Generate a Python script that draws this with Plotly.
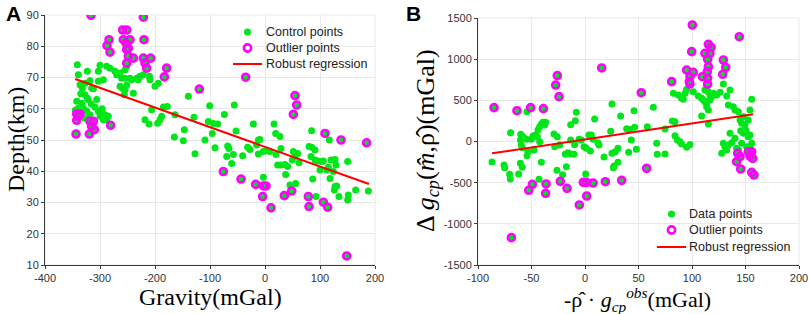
import plotly.graph_objects as go

# ---------------- Panel A data ----------------
a_ctrl_x = [-341.2, -339.4, -323.0, -336.4, -332.1, -327.3, -318.2, -315.2, -312.1, -303.0,
            -300.0, -287.9, -281.8, -272.7, -269.7, -263.6, -254.5, -251.5, -260.6, -254.5,
            -245.5, -242.4, -233.3, -227.3, -221.2, -230.3, -263.6, -259.4, -254.5, -251.5,
            -255.8, -239.4, -293.9, -303.0, -327.3, -323.0, -321.2, -333.3, -342.4, -339.4,
            -330.3, -324.2, -318.2, -309.1, -303.0, -300.0, -297.0, -293.9, -290.9, -284.8,
            -287.9, -210.3, -209.1, -200.0, -193.9, -206.1, -218.2, -210.9, -195.2, -187.9,
            -184.8, -177.6, -190.9, -163.6, -164.8, -148.5, -139.4, -129.1, -146.7, -127.3,
            -100.6, -55.8, -103.0, -93.9, -86.1, -109.1, -73.9, -52.7, -95.8, -90.9,
            -67.9, -65.5, -69.7, -57.6, -60.6, -40.6, -31.5, -27.3, -21.2, -12.1,
            -9.1, -15.2, -12.1, -3.0, 3.0, 9.1, 16.4, 19.4, 27.3, 29.1,
            20.0, 23.0, 29.1, 36.4, 41.2, 37.6, 51.5, 59.4, 49.7, 61.8,
            54.5, 84.8, 80.0, 84.8, 90.9, 83.6, 90.9, 95.8, 103.0, 106.1,
            100.0, 112.1, 118.2, 120.0, 127.3, 129.1, 124.2, 150.3, 86.7, 92.7,
            45.4, 55.7, -3.0, 115.2, 127.3, 130.3, 126.1, 134.5, 151.5, 150.3,
            164.8, 187.9, 117.0, -335.0, -345.0, -328.0, -316.0, -306.0, -296.0]
a_ctrl_y = [74.1, 70.9, 72.0, 67.7, 66.6, 68.2, 69.0, 66.6, 66.4, 72.0,
            73.9, 73.6, 73.0, 72.0, 70.9, 71.4, 72.5, 73.6, 69.8, 69.8,
            69.8, 69.3, 69.8, 70.4, 70.9, 69.3, 67.2, 66.6, 66.1, 67.5,
            64.5, 65.0, 69.3, 68.8, 64.5, 63.4, 62.9, 61.8, 62.4, 60.2,
            60.2, 59.2, 58.1, 60.5, 59.2, 57.6, 58.6, 56.5, 58.1, 57.6,
            56.5, 70.4, 69.3, 67.2, 68.2, 59.7, 56.5, 55.1, 55.4, 57.6,
            60.6, 60.7, 56.5, 58.1, 51.0, 49.8, 64.0, 57.3, 53.3, 45.6,
            61.0, 61.2, 55.9, 55.3, 55.1, 50.0, 58.2, 52.9, 52.1, 47.5,
            48.1, 47.3, 44.7, 45.4, 42.5, 45.0, 47.7, 47.0, 55.1, 50.0,
            50.2, 48.4, 45.5, 46.3, 46.6, 46.3, 55.1, 52.1, 51.1, 47.3,
            45.4, 42.0, 42.0, 42.2, 41.5, 39.0, 46.3, 45.7, 43.6, 42.7,
            44.7, 53.0, 47.9, 47.7, 46.8, 44.7, 43.6, 43.3, 43.1, 43.3,
            40.4, 40.4, 37.7, 43.6, 43.8, 42.0, 39.9, 43.1, 37.5, 31.9,
            35.6, 36.1, 38.1, 41.3, 35.1, 35.3, 34.0, 31.9, 32.4, 30.8,
            34.0, 33.7, 50.0, 64.8, 59.5, 57.0, 61.5, 63.0, 60.0]
a_out_x = [-316.4, -221.2, -258.8, -251.5, -257.6, -245.5, -220.0, -283.6, -287.3, -281.8,
           -252.7, -248.5, -251.5, -248.5, -239.4, -251.5, -221.2, -207.9, -218.2, -215.2,
           -178.8, -183.0, -119.4, -342.4, -336.4, -339.4, -342.4, -318.2, -312.1, -315.2,
           -310.3, -343.6, -319.4, -280.6,
           -35.2, 54.5, 57.6, 51.5, 109.1, 138.2, 184.8, -75.8, -43.6, -17.0,
           -3.0, 1.8, -4.3, 10.9, 35.1, 48.5, 78.8, 80.0, 106.1, 113.9, 148.5]
a_out_y = [89.9, 89.3, 85.2, 85.2, 82.1, 82.1, 82.1, 82.1, 80.2, 78.1,
           81.0, 79.4, 78.9, 76.8, 76.2, 74.6, 76.2, 76.2, 74.6, 73.0,
           73.0, 70.2, 66.3, 58.3, 58.3, 57.6, 56.3, 56.0, 56.0, 54.4,
           53.3, 51.9, 51.9, 54.7,
           70.1, 64.2, 61.2, 58.2, 52.1, 50.0, 49.1, 39.9, 37.5, 35.8,
           35.3, 35.3, 31.9, 28.3, 32.2, 33.7, 31.9, 28.7, 30.1, 28.5, 12.9]
a_fit_intercept = 47.8
a_fit_slope = -0.0629
a_fit_xrange = [-345.0, 189.0]
a_legend_labels = ["Control points", "Outlier points", "Robust regression"]

# ---------------- Panel B data ----------------
b_ctrl_x = [-86.9, -75.7, -75.1, -70.4, -69.8, -62.0, -60.4, -58.6, -69.5, -60.1,
            -57.9, -60.4, -59.5, -58.6, -54.8, -54.2, -53.3, -54.2, -50.2, -48.6,
            -47.7, -46.4, -44.5, -43.9, -42.4, -42.4, -40.8, -39.3, -37.7, -40.8,
            -43.0, -36.8, -29.0, -25.9, -28.3, -23.7, -26.2, -20.9, -18.4, -15.9,
            -13.4, -10.3, -17.4, -13.4, -9.0, -8.1, -13.4, -9.7, -5.6, -3.4,
            -0.9, 1.2, 3.7, 5.9, 7.5, 5.0, 12.1, 13.1, 9.0, 0.6,
            17.8, 24.0, 25.2, 25.2, 27.1, 28.3, 30.8, 30.8, 33.3, 38.9,
            41.7, 43.3, 45.8, 46.4, 48.0, 40.8, 26.5,
            63.9, 58.3, 67.0, 67.6, 74.8, 74.8, 81.6, 84.1, 84.1, 86.3,
            88.8, 90.3, 95.0, 98.1, 82.6, 87.2, 90.3, 91.9, 93.5, 95.0,
            101.2, 105.9, 109.0, 110.6, 112.1, 113.7, 113.7, 115.3, 116.8, 118.4,
            119.9, 123.1, 126.2, 129.3, 132.4, 135.5, 134.0, 138.6, 140.2, 143.3,
            144.9, 146.4, 148.0, 149.5, 152.6, 154.2, 155.8, 115.3, 109.0, 112.1,
            113.7, 115.3, 116.8, 135.5, 137.1, 129.3, 130.8, 132.4, 134.0, 127.7,
            140.2, 141.7, 143.3, 146.4, 148.0, 150.5, 152.6, 154.2, 155.8, 156.7,
            145.5, 151.1, 154.2]
b_ctrl_y = [-249, -286, -318, -399, -456, -395, -265, -314, 107, 87,
            59, 18, -43, -75, 26, -172, -124, 362, 26, 67,
            -103, 79, 59, 140, 180, -2, 208, 233, 200, -253,
            -460, 233, 91, 59, -63, -43, -350, -403, -156, -136,
            -152, -156, -306, 204, 253, 354, 18, -39, 26, 18,
            -63, -83, 79, 79, 26, -116, -14, -43, 273, -395,
            -188, 123, 455, -144, -298, -124, -83, -253, 310, 156,
            148, 18, 374, 172, -95, -132, -318,
            415, 180, -22, -156, -152, 152, 249, 241, 71, 18,
            -2, -31, -71, -35, 585, 565, 524, 512, 585, 634,
            605, 553, 524, 504, 484, 463, 423, 382, 504, 544,
            585, 565, 597, 698, 553, 625, 443, 423, 382, 362,
            261, 221, 301, 200, 261, 382, 512, 212, 310, 625,
            666, 605, 565, 99, -14, -22, -63, -103, -43, -144,
            38, -83, -103, -22, 99, 131, 59, 79, -22, -184,
            131, -63, -63]
b_out_x = [-85.0, -63.6, -50.8, -38.9, -25.9, -27.4, -24.3, 15.6, 52.6, -68.8,
           -52.6, -49.2, -36.4, -36.8, -23.1, -16.8, -5.3, -1.6, 1.6, 7.5,
           1.6, 19.0, 34.3,
           100.3, 144.2, 99.7, 115.3, 117.8, 112.1, 116.8, 114.6, 115.3, 129.3,
           131.5, 128.7, 95.0, 101.2, 98.1, 97.5, 98.1, 109.7, 114.3, 114.6,
           114.6, 81.0, 57.6, 142.7, 141.7, 144.9, 145.5, 152.6, 155.8, 154.2,
           156.7, 155.8, 157.9]
b_out_y = [411, 374, 411, 399, 800, 686, 545, 893, 593, -1168,
           -593, -520, -516, -630, -484, -569, -771, -496, -496, -504,
           -662, -488, -472,
           1415, 1273, 1091, 1180, 1144, 1071, 1071, 998, 909, 990,
           901, 816, 868, 840, 787, 727, 698, 787, 848, 767,
           698, 727, -326, -144, -245, -184, -334, -124, -124, -176,
           -205, -375, -407]
b_fit_intercept = 24.7
b_fit_slope = 1.941
b_fit_xrange = [-86.9, 157.3]
b_legend_labels = ["Data points", "Outlier points", "Robust regression"]

# ---------------- Axis ticks ----------------
a_xticks = [-400, -300, -200, -100, 0, 100, 200]
a_yticks = [10, 20, 30, 40, 50, 60, 70, 80, 90]
b_xticks = [-100, -50, 0, 50, 100, 150, 200]
b_yticks = [-1500, -1000, -500, 0, 500, 1000, 1500]

GREEN = "#00e61a"
MAGENTA = "#ff00ff"
RED = "#ff0000"
W, H = 809, 314

fig = go.Figure()


def add_panel(xs, ys, oxs, oys, b0, b1, xr, xa, ya, names):
    fig.add_trace(go.Scatter(x=xs, y=ys, mode="markers", name=names[0],
                             marker=dict(color=GREEN, size=7, line=dict(width=0)),
                             xaxis=xa, yaxis=ya))
    fig.add_trace(go.Scatter(x=oxs, y=oys, mode="markers", name=names[1] + " (data)",
                             marker=dict(color=GREEN, size=7, line=dict(width=0)),
                             xaxis=xa, yaxis=ya, hoverinfo="skip"))
    fig.add_trace(go.Scatter(x=oxs, y=oys, mode="markers", name=names[1],
                             marker=dict(symbol="circle-open", color=MAGENTA, size=7,
                                         line=dict(width=2.6, color=MAGENTA)),
                             xaxis=xa, yaxis=ya))
    fx = list(xr)
    fy = [b0 + b1 * v for v in fx]
    fig.add_trace(go.Scatter(x=fx, y=fy, mode="lines", name=names[2],
                             line=dict(color=RED, width=2),
                             xaxis=xa, yaxis=ya))


add_panel(a_ctrl_x, a_ctrl_y, a_out_x, a_out_y, a_fit_intercept, a_fit_slope,
          a_fit_xrange, "x", "y", a_legend_labels)
add_panel(b_ctrl_x, b_ctrl_y, b_out_x, b_out_y, b_fit_intercept, b_fit_slope,
          b_fit_xrange, "x2", "y2", b_legend_labels)

axis_common = dict(showline=True, linecolor="#3a3a3a", linewidth=1,
                   ticks="outside", ticklen=3, tickcolor="#3a3a3a",
                   showgrid=True, gridcolor="#e8e8e8", gridwidth=1, zeroline=False,
                   tickfont=dict(family="Arial", size=11, color="#333333"),
                   tickmode="array", automargin=False)

fig.update_layout(
    width=W, height=H,
    margin=dict(l=0, r=0, t=0, b=0, pad=0, autoexpand=False),
    paper_bgcolor="white", plot_bgcolor="white",
    showlegend=False,
    xaxis=dict(domain=[45 / W, 375 / W], range=[-400, 200], anchor="y",
               tickvals=a_xticks, ticktext=[str(v) for v in a_xticks], **axis_common),
    yaxis=dict(domain=[1 - 265 / H, 1 - 15 / H], range=[10, 90], anchor="x",
               tickvals=a_yticks, ticktext=[str(v) for v in a_yticks], **axis_common),
    xaxis2=dict(domain=[478 / W, 799 / W], range=[-100, 200], anchor="y2",
                tickvals=b_xticks, ticktext=[str(v) for v in b_xticks], **axis_common),
    yaxis2=dict(domain=[1 - 265 / H, 1 - 18 / H], range=[-1500, 1500], anchor="x2",
                tickvals=b_yticks, ticktext=[str(v) for v in b_yticks], **axis_common),
)

# light frame on top/right of each panel (grid-coloured box)
for xr_, yr_ in (("x", "y"), ("x2", "y2")):
    fig.add_shape(type="rect", xref=f"{xr_} domain", yref=f"{yr_} domain",
                  x0=0, x1=1, y0=0, y1=1, line=dict(color="#e8e8e8", width=1),
                  layer="below")


# legend drawn as keys + text (pixel placement, paper coordinates)
def px(x):
    return x / W


def py(y):
    return 1 - y / H


def draw_legend(sym_x, text_x, rows, labels):
    r = 3.5
    fig.add_shape(type="circle", xref="paper", yref="paper",
                  x0=px(sym_x - r), x1=px(sym_x + r), y0=py(rows[0] + r), y1=py(rows[0] - r),
                  fillcolor=GREEN, line=dict(width=0))
    r2 = 3.6
    fig.add_shape(type="circle", xref="paper", yref="paper",
                  x0=px(sym_x - r2), x1=px(sym_x + r2), y0=py(rows[1] + r2), y1=py(rows[1] - r2),
                  fillcolor="white", line=dict(color=MAGENTA, width=2.6))
    fig.add_shape(type="line", xref="paper", yref="paper",
                  x0=px(sym_x - 14.5), x1=px(sym_x + 14.5), y0=py(rows[2]), y1=py(rows[2]),
                  line=dict(color=RED, width=2))
    for lab, yy in zip(labels, rows):
        fig.add_annotation(text=lab, xref="paper", yref="paper", x=px(text_x), y=py(yy),
                           xanchor="left", yanchor="middle", showarrow=False,
                           font=dict(family="Arial", size=12.5, color="#222222"))


draw_legend(247.5, 264, [32, 48, 64], a_legend_labels)
draw_legend(671.5, 687, [214, 230, 247], b_legend_labels)

serif = "Liberation Serif, Times New Roman, serif"
ann = [
    dict(text="<b>A</b>", x=px(4), y=py(14), xanchor="left", yanchor="middle",
         font=dict(family="Arial", size=21, color="black")),
    dict(text="<b>B</b>", x=px(404), y=py(14), xanchor="left", yanchor="middle",
         font=dict(family="Arial", size=21, color="black")),
    dict(text="Depth(km)", x=px(16), y=py(140), textangle=-90,
         xanchor="center", yanchor="middle", font=dict(family=serif, size=24, color="black")),
    dict(text="Gravity(mGal)", x=px(210), y=py(297),
         xanchor="center", yanchor="middle", font=dict(family=serif, size=24, color="black")),
    dict(text="Δ <i>g</i><sub><i>cp</i></sub>(<i>m̂</i>,ρ̂)(mGal)", x=px(427), y=py(141),
         textangle=-90, xanchor="center", yanchor="middle",
         font=dict(family=serif, size=26, color="black")),
    dict(text="-ρ̂ · <i>g</i><sub><i>cp</i></sub><sup><i>obs</i></sup>(mGal)",
         x=px(637), y=py(299), xanchor="center", yanchor="middle",
         font=dict(family=serif, size=22, color="black")),
]
for a in ann:
    fig.add_annotation(xref="paper", yref="paper", showarrow=False, **a)

fig.write_html(
    "out.html",
    config={"displayModeBar": False, "responsive": False},
    post_script="document.body.style.margin='0';document.body.style.overflow='hidden';",
)
